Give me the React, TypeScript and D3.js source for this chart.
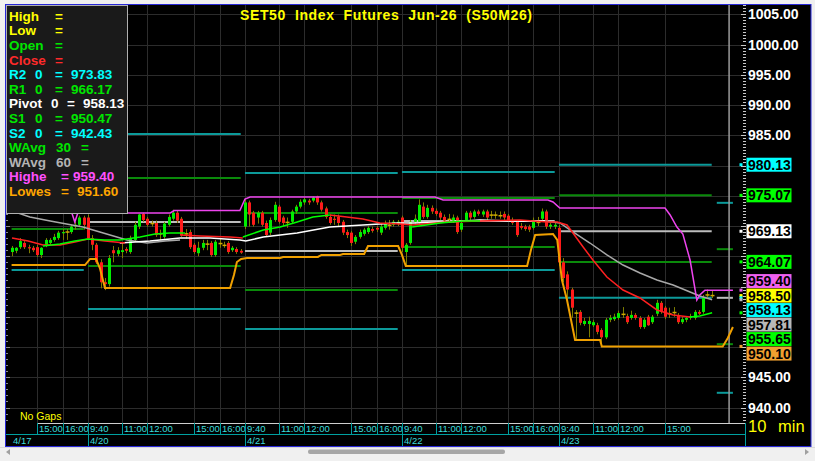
import React from "react";
import * as d3 from "d3";

// ---------------- DATA ----------------
const opens = [
  965.7, 965.9, 966.5, 967.2, 966.5, 966.4, 966.5, 965.2, 966.7, 967.2,
  967.7, 968.0, 968.8, 969.0, 969.0, 969.9, 970.2, 971.4, 971.4, 968.0,
  966.9, 964.0, 960.7, 960.4, 966.0, 965.4, 965.7, 966.2, 965.7, 967.7,
  969.9, 972.0, 971.2, 970.5, 970.5, 968.9, 968.2, 970.2, 971.2, 972.2,
  971.2, 968.9, 969.0, 966.9, 965.5, 966.4, 967.0, 967.2, 965.2, 967.2,
  966.9, 967.2, 966.0, 966.2, 965.9, 969.9, 973.9, 972.2, 971.4, 972.2,
  970.5, 968.9, 971.0, 973.2, 971.4, 970.7, 970.7, 972.4, 973.2, 973.9,
  974.2, 974.2, 974.9, 973.9, 972.9, 971.5, 971.2, 971.5, 970.7, 969.0,
  968.9, 967.4, 968.2, 968.7, 969.0, 969.5, 969.7, 968.9, 969.7, 970.2,
  970.2, 970.4, 971.4, 965.7, 967.2, 970.7, 970.7, 973.2, 971.5, 973.0,
  972.5, 972.2, 971.5, 971.2, 970.9, 971.4, 969.4, 971.0, 972.2, 971.5,
  972.4, 971.9, 972.4, 971.9, 971.9, 971.9, 972.0, 971.7, 971.0, 970.7,
  970.0, 969.9, 969.9, 969.7, 970.7, 971.2, 972.4, 969.9, 969.9, 969.7,
  964.0, 962.0, 959.5, 955.8, 955.8, 953.8, 953.8, 953.6, 953.6, 952.8,
  951.6, 954.5, 954.6, 954.8, 955.5, 955.1, 954.8, 955.3, 954.8, 953.3,
  955.0, 954.1, 955.5, 957.3, 956.5, 955.6, 955.8, 955.3, 954.1, 954.5,
  954.8, 954.8, 955.8, 955.8, 958.6, 958.6,
];
const highs = [
  966.7, 966.5, 968.0, 967.5, 966.9, 966.7, 966.9, 966.5, 968.0, 968.0,
  968.7, 969.2, 969.5, 969.5, 970.2, 970.7, 971.7, 971.7, 971.9, 968.5,
  967.2, 964.5, 961.4, 965.2, 966.7, 966.5, 967.2, 966.5, 968.4, 970.7,
  972.0, 972.2, 971.5, 970.9, 970.9, 969.4, 970.7, 971.9, 972.7, 972.5,
  971.5, 969.5, 969.4, 967.2, 967.4, 967.7, 967.7, 967.5, 967.7, 968.0,
  967.4, 967.5, 966.7, 966.5, 966.2, 974.4, 974.2, 972.5, 972.5, 972.5,
  970.9, 971.4, 974.0, 973.5, 971.7, 971.4, 972.7, 973.5, 974.4, 974.7,
  974.5, 974.9, 975.0, 974.2, 973.2, 971.9, 971.9, 971.9, 971.0, 969.4,
  969.2, 968.5, 969.4, 969.7, 970.0, 969.9, 970.0, 970.4, 970.9, 971.0,
  971.0, 971.0, 971.7, 967.2, 971.0, 971.9, 974.4, 973.9, 973.5, 973.4,
  972.9, 972.5, 971.9, 972.0, 971.9, 971.7, 970.9, 972.5, 972.5, 972.7,
  972.7, 972.7, 972.7, 972.5, 972.4, 972.4, 972.4, 972.0, 971.4, 971.0,
  970.5, 970.2, 970.2, 971.4, 971.5, 972.9, 972.7, 970.5, 970.5, 970.2,
  964.7, 962.5, 959.8, 956.1, 956.1, 954.8, 955.0, 954.5, 954.0, 953.1,
  954.8, 955.3, 955.5, 956.0, 956.6, 955.5, 956.0, 955.6, 955.1, 954.8,
  955.3, 955.3, 957.8, 957.6, 956.8, 956.5, 956.6, 955.6, 955.0, 955.1,
  955.5, 956.1, 956.1, 958.6, 959.5, 959.3,
];
const lows = [
  965.0, 965.5, 966.2, 966.2, 965.5, 965.7, 964.9, 964.7, 966.5, 966.9,
  967.4, 967.7, 967.7, 967.7, 968.7, 969.4, 970.0, 969.4, 967.7, 966.0,
  963.7, 959.7, 959.4, 960.0, 964.0, 965.0, 964.7, 965.5, 965.4, 967.4,
  969.5, 970.7, 969.9, 969.9, 968.2, 967.7, 967.9, 969.9, 970.9, 970.5,
  968.2, 967.9, 966.2, 965.4, 965.0, 966.0, 966.0, 964.9, 964.9, 966.4,
  966.4, 965.4, 965.7, 965.4, 965.4, 969.5, 969.9, 969.9, 970.4, 969.9,
  968.2, 968.5, 970.7, 970.4, 970.0, 969.7, 970.4, 972.0, 972.9, 973.5,
  973.5, 973.9, 973.5, 972.4, 971.2, 970.2, 970.2, 970.0, 968.5, 968.0,
  966.7, 967.0, 967.9, 968.4, 968.7, 968.9, 969.0, 968.5, 969.4, 969.4,
  969.9, 970.0, 965.7, 963.4, 966.9, 970.4, 970.4, 971.2, 971.2, 972.0,
  971.7, 971.0, 970.5, 970.5, 970.5, 968.7, 969.0, 970.7, 971.0, 971.2,
  971.7, 971.5, 971.0, 971.2, 971.2, 971.2, 971.0, 970.7, 970.2, 968.2,
  969.4, 969.2, 969.0, 969.4, 970.0, 970.9, 969.5, 969.5, 969.5, 963.4,
  960.7, 957.8, 954.8, 951.1, 953.6, 953.5, 951.6, 953.3, 952.1, 950.1,
  951.3, 954.1, 954.3, 954.5, 954.8, 953.8, 954.5, 954.5, 953.0, 953.0,
  953.5, 953.8, 955.1, 955.5, 954.6, 954.8, 955.0, 953.8, 953.8, 954.1,
  954.5, 954.5, 955.3, 955.5, 958.1, 958.1,
];
const closes = [
  966.4, 966.4, 967.5, 966.5, 966.3, 966.0, 965.2, 966.4, 967.7, 967.7,
  968.2, 968.9, 969.0, 969.0, 969.9, 970.2, 971.4, 970.2, 968.0, 966.9,
  964.0, 960.7, 960.4, 964.7, 965.5, 966.0, 966.0, 965.9, 968.0, 970.2,
  971.9, 971.0, 970.2, 970.4, 968.5, 968.7, 970.4, 971.5, 972.2, 970.9,
  968.5, 968.7, 966.5, 965.7, 966.4, 967.2, 967.0, 965.2, 967.4, 967.1,
  966.8, 965.7, 966.4, 965.7, 965.6, 973.9, 971.9, 970.2, 972.2, 970.2,
  968.5, 971.0, 973.5, 970.7, 970.5, 970.6, 972.4, 973.2, 974.0, 974.4,
  973.9, 974.7, 973.9, 972.7, 971.5, 970.5, 971.0, 970.5, 968.9, 968.5,
  967.2, 968.2, 969.0, 969.4, 969.7, 969.2, 969.4, 969.9, 970.5, 970.1,
  970.7, 970.7, 966.4, 966.9, 970.7, 971.2, 973.5, 971.5, 973.0, 972.4,
  972.0, 971.4, 970.9, 971.1, 971.4, 969.0, 970.5, 972.2, 971.4, 972.4,
  972.0, 972.4, 971.4, 971.8, 971.8, 971.7, 971.4, 971.0, 970.5, 968.5,
  969.7, 969.5, 969.4, 971.0, 970.6, 972.4, 969.9, 970.2, 970.2, 964.0,
  961.4, 959.5, 956.5, 955.6, 954.0, 954.3, 954.3, 954.1, 952.5, 951.6,
  954.5, 954.8, 955.0, 955.6, 955.4, 954.1, 955.3, 954.8, 953.3, 954.5,
  953.6, 955.0, 957.3, 955.8, 955.0, 955.5, 955.7, 954.1, 954.6, 954.8,
  955.1, 955.8, 955.5, 958.1, 958.6, 958.5,
];

// sessions / time axis (bar index 0 = first visible bar of 4/17)
const dayLabels = ["4/17", "4/20", "4/21", "4/22", "4/23"];
const dayStartBars = [-19, 18, 55, 92, 129];
const BARS_PER_DAY = 37;
const timeTickLabels = ["9:40", "11:00", "12:00", "15:00", "16:00"];
const timeTickOffsets = [0, 8, 14, 25, 31];
const ticksShownPerDay = [5, 5, 5, 5, 4];

// daily floor pivots (R2, R1, P, S1, S2) per day
const pivotR2 = [NaN, 985.21, 978.76, 978.93, 980.13];
const pivotR1 = [NaN, 977.93, 972.15, 974.63, 975.07];
const pivotP = [NaN, 970.66, 965.87, 970.83, 969.13];
const pivotS1 = [969.5, 963.39, 959.42, 966.53, 964.07];
const pivotS2 = [962.73, 956.28, 952.98, 962.73, 958.13];
// next session pivots: R2, R1, P, S1, S2
const nextPivots = [973.83, 966.17, 958.13, 950.47, 942.43];
const nextPivotBars = [166.2, 170];
const nowBar = 169.1;

type Pt = [number, number];
const redLine: Pt[][] = [
  [[0.1, 968.02], [3.9, 967.52], [7.4, 966.86], [11.4, 966.86], [14.9, 967.36], [18, 967.85], [22, 967.52], [26.7, 967.19]],
  [[39.7, 968.51], [44.4, 968.35], [51.5, 968.18], [54.5, 968.02]],
  [[75, 971.82], [79, 971.49], [82.8, 971.16], [86.8, 970.5], [91.5, 970.33], [94.6, 970.17], [102.6, 970.66], [110.4, 970.83],
   [119.8, 970.99], [126.2, 970.66], [128.6, 970.66], [130.9, 970.17], [132.3, 968.84], [134.7, 966.53], [137, 964.38],
   [140.3, 961.57], [144.1, 959.42], [148.1, 958.1], [152.1, 956.12], [155.9, 955.29], [159.9, 954.96]],
];
const greenLine: Pt[][] = [
  [[7.4, 966.69], [11.4, 967.02], [14.9, 967.52], [18, 967.85], [22, 967.69], [25.5, 967.69], [30.3, 968.18], [33.8, 968.68], [37.3, 968.84], [40.9, 968.84]],
  [[54.5, 968.18], [59.3, 969.34], [63.3, 969.83], [67.3, 970.66], [71, 971.49], [75, 971.82]],
  [[94.4, 969.83], [101, 970.5], [106.4, 970.83], [110.4, 970.83]],
  [[159.9, 954.96], [162.2, 955.12], [165.1, 955.65]],
];
const whiteLine: Pt[][] = [
  [[25.5, 967.19], [32.6, 967.52], [39.7, 968.02], [46.8, 968.02], [53.8, 967.69], [55.2, 967.52], [59.3, 968.18], [67.3, 968.84],
   [75, 969.83], [82.8, 970.17], [90.8, 970.5], [94.6, 970.5], [102.6, 970.66], [110.4, 970.99], [118.2, 970.83], [125.7, 970.83]],
];
const greyLine: Pt[][] = [
  [[0, 972.5], [4.3, 971.49], [9.1, 970.83], [16.8, 969.83], [20.8, 969.01], [27.2, 967.69], [31.9, 967.19], [36.2, 967.52], [39.7, 967.69]],
  [[125.7, 970.83], [129.2, 970.5], [132.3, 969.01], [136.3, 967.19], [140.3, 965.21], [144.1, 963.55], [148.1, 962.23],
   [152.1, 961.07], [155.9, 960.25], [159.9, 959.09], [162.2, 958.43], [165.1, 957.81]],
];
const highestLine: Pt[] = [
  [0, 972.15], [14.2, 972.15], [14.9, 970.66], [15.6, 972.15], [37.4, 972.15], [38.3, 972.56], [53.8, 972.56], [55, 974.46],
  [56.2, 974.79], [99.8, 974.79], [101.7, 974.3], [126.4, 974.3], [127.6, 973.97], [129.2, 972.98], [154, 972.98], [155.2, 971.82],
  [156.8, 969.83], [158.2, 968.68], [159.9, 964.38], [161.5, 957.77], [162.2, 958.6], [163.4, 959.4], [165.1, 959.4], [170, 959.4],
];
const lowestLine: Pt[] = [
  [0, 963.55], [17.3, 963.55], [18.5, 964.55], [19.9, 964.55], [20.8, 963.06], [22, 959.75], [51.5, 959.75], [52.4, 961.9],
  [53.1, 964.05], [54.1, 964.55], [55.5, 964.71], [63.3, 964.71], [64, 964.88], [72.2, 964.88], [73, 965.21], [77.4, 965.21],
  [78.1, 965.37], [83.1, 965.37], [84, 966.69], [91.1, 966.69], [92, 965.21], [92.9, 963.39], [121.5, 963.39], [122.4, 966.03],
  [123.4, 968.51], [127.6, 968.68], [128.6, 967.69], [129.7, 961.07], [130.9, 957.77], [132.8, 951.16], [138.7, 951.16],
  [139.1, 950.1], [167.6, 950.1], [168.8, 951.49], [170, 953.31],
];

// right-axis value tags
const tagValues = [980.13, 975.07, 969.13, 964.07, 959.4, 958.5, 958.13, 957.81, 955.65, 950.1];
const tagColors = ["#00ffff", "#00ff00", "#ffffff", "#00ff00", "#f060f0", "#ffff00", "#00ffff", "#b8b8b8", "#00ff00", "#f0a030"];
const lastPrice = 958.5;

// legend
const legendNames = ["High", "Low", "Open", "Close", "R2", "R1", "Pivot", "S1", "S2", "WAvg", "WAvg", "Highe", "Lowes"];
const legendParams = ["", "", "", "", "0", "0", "0", "0", "0", "30", "60", "", ""];
const legendValues = ["", "", "", "", "973.83", "966.17", "958.13", "950.47", "942.43", "", "", "959.40", "951.60"];
const legendColors = ["#ffff00", "#ffff00", "#00e600", "#ff2a2a", "#00ffff", "#00e600", "#ffffff", "#00e600", "#00ffff", "#00e600", "#b4b4b4", "#ff50ff", "#ffa500"];
const legendParamX = [0, 0, 0, 0, 35, 35, 51, 35, 35, 56, 56, 0, 0];
const legendEqX = [55, 55, 55, 55, 55, 55, 67, 55, 55, 81, 81, 61, 61];
const legendValX = [0, 0, 0, 0, 71, 71, 83, 71, 71, 0, 0, 73, 77];

const title = "SET50  Index  Futures  Jun-26  (S50M26)";

// ---------------- STYLE ----------------
const CYAN = "#0c9a9a";
const GREEN = "#0a8a0a";
const PGREY = "#bdbdbd";
const FONT = "'Liberation Sans', Arial, sans-serif";

export default function App() {
  const plotL = 6, plotR = 745, plotT = 5, plotB = 423;
  const x = d3.scaleLinear().domain([0, 165]).range([11.6, 711.7]);
  const y = d3.scaleLinear().domain([940, 990]).range([407.5, 105]);
  const priceTicks = d3.range(940, 1005.01, 5);
  const line = d3.line<Pt>().x((d) => x(d[0])).y((d) => y(d[1]));

  const timeTicks: { k: number; label: string }[] = [];
  dayStartBars.forEach((s, d) => {
    timeTickOffsets.slice(0, ticksShownPerDay[d]).forEach((o, j) => {
      const k = s + o;
      if (x(k) >= plotL) timeTicks.push({ k, label: timeTickLabels[j] });
    });
  });

  const levels = [pivotR2, pivotR1, pivotP, pivotS1, pivotS2];
  const levelColors = [CYAN, GREEN, PGREY, GREEN, CYAN];

  // tag stacking around the last price
  const tagPos = tagValues.map((v) => y(v));
  const a = tagValues.indexOf(lastPrice);
  for (let i = a - 1; i >= 0; i--) tagPos[i] = Math.min(tagPos[i], tagPos[i + 1] - 14.5);
  for (let i = a + 1; i < tagPos.length; i++) tagPos[i] = Math.max(tagPos[i], tagPos[i - 1] + 14.5);

  // axis labels hidden behind tags
  const visibleTicks = priceTicks.filter((p) => tagPos.every((tp) => Math.abs(tp - y(p)) > 16));

  const minorTicks = d3.range(937, 1006.6, 0.5);
  const leftTicks = d3.range(937, 1006.6, 1);
  const snap = (v: number) => Math.round(v) + 0.5;

  return (
    <svg width={815} height={461} style={{ position: "fixed", left: 0, top: 0, display: "block" }} fontFamily={FONT}>
      <defs>
        <clipPath id="plotClip">
          <rect x={plotL} y={plotT} width={plotR - plotL} height={plotB - plotT} />
        </clipPath>
      </defs>
      <rect width={815} height={461} fill="#f0f0f0" />
      <rect x={5.5} y={4.5} width={805.5} height={442} fill="#000" stroke="#2828d8" strokeWidth={1} />

      {/* grid */}
      <g stroke="#2c2c2c" strokeWidth={1} shapeRendering="crispEdges">
        {priceTicks.map((p) => (
          <line key={"h" + p} x1={plotL} x2={plotR} y1={snap(y(p))} y2={snap(y(p))} />
        ))}
        {timeTicks.map((t) => (
          <line key={"v" + t.k} x1={snap(x(t.k))} x2={snap(x(t.k))} y1={plotT} y2={plotB} />
        ))}
      </g>

      <g clipPath="url(#plotClip)">
        {dayStartBars.map((s, d) =>
          levels.map((lv, li) =>
            isNaN(lv[d]) ? null : (
              <line key={"pv" + d + "-" + li} x1={x(Math.max(s, 0))} x2={x(s + BARS_PER_DAY - 1)} y1={y(lv[d])} y2={y(lv[d])}
                stroke={levelColors[li]} strokeWidth={2} />
            )
          )
        )}
        {nextPivots.map((v, i) => (
          <line key={"np" + i} x1={x(nextPivotBars[0])} x2={x(nextPivotBars[1])} y1={y(v)} y2={y(v)} stroke={levelColors[i]} strokeWidth={2} />
        ))}
        <line x1={x(nowBar)} x2={x(nowBar)} y1={plotT} y2={plotB} stroke="#9a9a9a" strokeWidth={1.5} />

        {opens.map((o, k) => {
          const c = closes[k];
          const cx = Math.round(x(k));
          const doji = Math.abs(c - o) <= 0.2;
          const top = y(Math.max(o, c));
          const bot = y(Math.min(o, c));
          return (
            <g key={"c" + k}>
              <line x1={cx + 0.5} x2={cx + 0.5} y1={y(highs[k])} y2={y(lows[k])} stroke="#7c7c00" strokeWidth={1} />
              {doji ? (
                <rect x={cx - 1.5} y={y(c) - 0.75} width={4} height={1.5} fill="#d0a800" />
              ) : (
                <rect x={cx - 1} y={top} width={3} height={Math.max(1, bot - top)} fill={c > o ? "#00ee00" : "#ff1a1a"} />
              )}
            </g>
          );
        })}

        {greyLine.map((s, i) => <path key={"g" + i} d={line(s) || ""} fill="none" stroke="#a8a8a8" strokeWidth={1.5} />)}
        {whiteLine.map((s, i) => <path key={"w" + i} d={line(s) || ""} fill="none" stroke="#ffffff" strokeWidth={1.5} />)}
        {redLine.map((s, i) => <path key={"r" + i} d={line(s) || ""} fill="none" stroke="#ff2020" strokeWidth={1.5} />)}
        {greenLine.map((s, i) => <path key={"gr" + i} d={line(s) || ""} fill="none" stroke="#00ff00" strokeWidth={1.5} />)}
        <path d={line(highestLine) || ""} fill="none" stroke="#ee44ee" strokeWidth={1.5} />
        <path d={line(lowestLine) || ""} fill="none" stroke="#f0a000" strokeWidth={2} />
      </g>

      <g stroke="#8a8a8a" strokeWidth={1} shapeRendering="crispEdges">
        {leftTicks.filter((p) => y(p) > plotT && y(p) < plotB).map((p) => (
          <line key={"lt" + p} x1={plotL} x2={plotL + (p % 5 === 0 ? 4 : 2)} y1={snap(y(p))} y2={snap(y(p))} />
        ))}
      </g>
      <g stroke="#c8c8c8" strokeWidth={1} shapeRendering="crispEdges">
        {minorTicks.filter((p) => y(p) > plotT && y(p) < plotB).map((p) => (
          <line key={"rt" + p} x1={plotR - (p % 5 === 0 ? 4 : 2.5)} x2={plotR + 1} y1={snap(y(p))} y2={snap(y(p))} />
        ))}
      </g>

      {visibleTicks.map((p) => (
        <text key={"pl" + p} x={748} y={y(p) + 5} fill="#ffffff" fontSize={14} fontWeight="bold">
          {p.toFixed(2)}
        </text>
      ))}
      {tagValues.map((v, i) => (
        <rect key={"tm" + i} x={739.5} y={y(v) - 1.5} width={3} height={3} fill={tagColors[i]} />
      ))}
      {tagValues.map((v, i) => (
        <g key={"tg" + i}>
          <rect x={746.5} y={tagPos[i] - 7} width={45} height={14} fill={tagColors[i]} />
          <text x={748} y={tagPos[i] + 5} fill="#000" fontSize={14} fontWeight="bold">
            {v.toFixed(2)}
          </text>
        </g>
      ))}

      <text x={240} y={20} fill="#ffff00" fontSize={14} fontWeight="bold" textLength={292} lengthAdjust="spacing" style={{ whiteSpace: "pre" }}>
        {title}
      </text>

      <rect x={6.5} y={5.5} width={121} height={208} fill="#1a1a1a" stroke="#b0b0b0" strokeWidth={1} />
      {legendNames.map((n, i) => {
        const by = 20.7 + i * 14.6;
        return (
          <g key={"lg" + i} fill={legendColors[i]} fontSize={13.5} fontWeight="bold">
            <text x={9} y={by}>{n}</text>
            {legendParams[i] && <text x={legendParamX[i]} y={by}>{legendParams[i]}</text>}
            <text x={legendEqX[i]} y={by}>=</text>
            {legendValues[i] && <text x={legendValX[i]} y={by}>{legendValues[i]}</text>}
          </g>
        );
      })}

      <text x={20} y={420} fill="#ffff00" fontSize={10.5}>No Gaps</text>

      <line x1={37} x2={plotR} y1={423.5} y2={423.5} stroke="#cfcfcf" strokeWidth={1} />
      <line x1={plotL} x2={plotR} y1={434.5} y2={434.5} stroke="#00a0a0" strokeWidth={1} />
      <line x1={plotR + 0.5} x2={plotR + 0.5} y1={423} y2={446} stroke="#00a0a0" strokeWidth={1} />
      {timeTicks.map((t) => (
        <g key={"tt" + t.k}>
          <line x1={snap(x(t.k))} x2={snap(x(t.k))} y1={423} y2={434} stroke="#00a0a0" strokeWidth={1} />
          <text x={snap(x(t.k)) + 1.5} y={432} fill="#3cdcdc" fontSize={9.5}>{t.label}</text>
        </g>
      ))}
      {dayStartBars.map((s, d) => {
        const xs = x(s);
        const visible = xs >= plotL;
        return (
          <g key={"dl" + d}>
            {visible && <line x1={snap(xs)} x2={snap(xs)} y1={434} y2={446} stroke="#00a0a0" strokeWidth={1} />}
            <text x={visible ? snap(xs) + 1.5 : 13} y={444} fill="#3cdcdc" fontSize={9.5}>{dayLabels[d]}</text>
          </g>
        );
      })}
      <text x={748} y={432} fill="#ffff00" fontSize={16.5}>10</text>
      <text x={778} y={432} fill="#ffff00" fontSize={16.5}>min</text>

      <line x1={0} x2={815} y1={447.5} y2={447.5} stroke="#d8d8d8" />
      <rect x={308} y={449.5} width={197} height={4.5} rx={2} fill="#a6a6a6" />
      <path d="M6,452 L10,449 L10,455 Z" fill="#a0a0a0" />
      <path d="M809,452 L805,449 L805,455 Z" fill="#a0a0a0" />
    </svg>
  );
}
